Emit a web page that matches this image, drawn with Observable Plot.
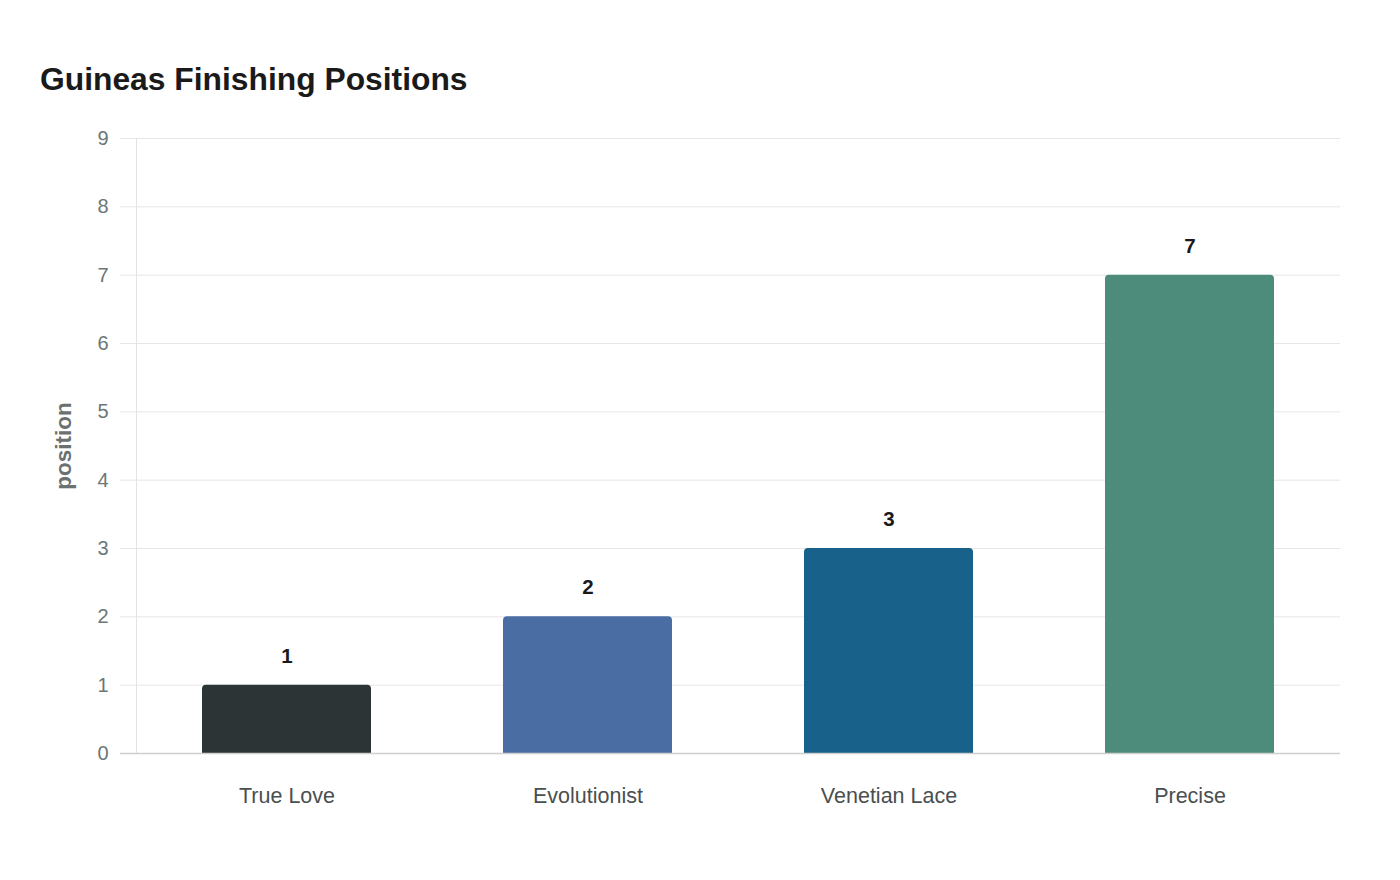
<!DOCTYPE html>
<html>
<head>
<meta charset="utf-8">
<script src="https://cdn.jsdelivr.net/npm/d3@7"></script>
<script src="https://cdn.jsdelivr.net/npm/@observablehq/plot@0.6"></script>
<style>
  html, body { margin: 0; padding: 0; background: #fff; width: 1400px; height: 880px; overflow: hidden; }
  body { font-family: "Liberation Sans", Arial, sans-serif; position: relative; }
  #title { position: absolute; left: 40px; top: 60px; font-size: 31.8px; font-weight: bold; color: #1a1a1a; line-height: 38px; margin: 0; }
  #chart { position: absolute; left: 0; top: 110px; }
</style>
</head>
<body>
<div id="title">Guineas Finishing Positions</div>
<div id="chart"></div>
<script>
const horses = ["True Love", "Evolutionist", "Venetian Lace", "Precise"];
const positions = [1, 2, 3, 7];
const colors = ["#2d3436", "#4a6ea4", "#17618a", "#4d8c7b"];
const yTicks = [0, 1, 2, 3, 4, 5, 6, 7, 8, 9];

const data = horses.map((h, i) => ({horse: h, position: positions[i], color: colors[i]}));

const chart = Plot.plot({
  width: 1400,
  height: 770,
  marginTop: 28,
  marginBottom: 127,
  marginLeft: 136,
  marginRight: 60,
  style: {fontFamily: "Liberation Sans, Arial, sans-serif", background: "#fff"},
  x: {domain: horses, paddingInner: 0.44, paddingOuter: 0.22, label: null},
  y: {domain: [0, 9], label: null},
  marks: [
    Plot.gridY(yTicks, {stroke: "#e6e6e6", strokeOpacity: 1, insetLeft: -16}),
    Plot.frame({anchor: "left", stroke: "#e3e3e3", strokeOpacity: 1}),
    Plot.barY(data, {x: "horse", y: "position", fill: "color", rx1y1: 4, rx2y1: 4}),
    Plot.ruleY([0], {stroke: "#cfcfcf", strokeWidth: 1.5, insetLeft: -16}),
    Plot.axisY({ticks: yTicks, tickFormat: "d", tickSize: 0, tickPadding: 28, fontSize: 20, fill: "#6b7777", label: null}),
    Plot.axisX({tickSize: 0, tickPadding: 34, fontSize: 21.5, fill: "#4a4f50", label: null}),
    Plot.text(data, {x: "horse", y: "position", text: d => String(d.position), dy: -29, fontSize: 20.5, fontWeight: "bold", fill: "#1a1a1a"}),
    Plot.text(["position"], {frameAnchor: "left", textAnchor: "middle", text: d => d, dx: -73, rotate: -90, fontSize: 22.5, fontWeight: "bold", fill: "#6b7070"})
  ]
});
document.getElementById("chart").appendChild(chart);
</script>
</body>
</html>
